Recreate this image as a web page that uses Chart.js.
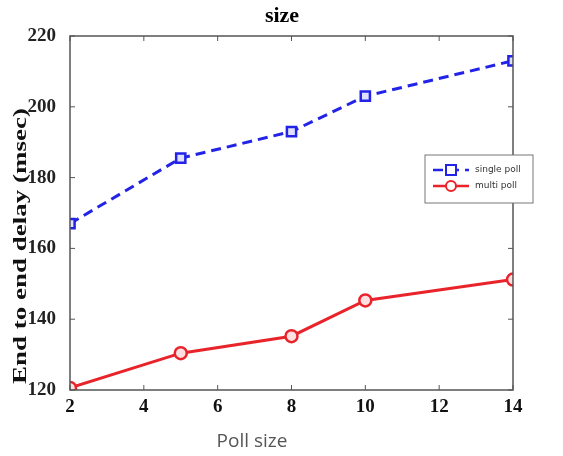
<!DOCTYPE html>
<html>
<head>
<meta charset="utf-8">
<script src="https://cdn.jsdelivr.net/npm/chart.js@4"></script>
<style>
  html, body { margin: 0; padding: 0; background: #fff; }
  #wrap { width: 563px; height: 456px; }
</style>
</head>
<body>
<div id="wrap"><canvas id="lineChart" width="563" height="456"></canvas></div>
<script>
// data
var pollSize = [2, 5, 8, 10, 14];
var singlePoll = [167, 185.5, 193, 203, 213];
var multiPoll = [120.6, 130.4, 135.2, 145.3, 151.2];
var xTicks = [2, 4, 6, 8, 10, 12, 14];
var yTicks = [120, 140, 160, 180, 200, 220];
var titleText = 'size';
var xTitle = 'Poll size';
var yTitle = 'End to end delay (msec)';

function pts(ys) {
  return pollSize.map(function (x, i) { return { x: x, y: ys[i] }; });
}

// frame round the plot area, with small inward ticks, plus the titles
var framePlugin = {
  id: 'frame',
  afterDraw: function (chart) {
    var c = chart.ctx, a = chart.chartArea;
    var xs = chart.scales.x, ys = chart.scales.y;
    c.save();
    c.strokeStyle = '#555';
    c.lineWidth = 1.5;
    c.strokeRect(a.left, a.top, a.right - a.left, a.bottom - a.top);
    c.lineWidth = 1;
    xTicks.forEach(function (t) {
      var px = xs.getPixelForValue(t);
      c.beginPath(); c.moveTo(px, a.bottom); c.lineTo(px, a.bottom - 5); c.stroke();
      c.beginPath(); c.moveTo(px, a.top); c.lineTo(px, a.top + 5); c.stroke();
    });
    yTicks.forEach(function (t) {
      var py = ys.getPixelForValue(t);
      c.beginPath(); c.moveTo(a.left, py); c.lineTo(a.left + 5, py); c.stroke();
      c.beginPath(); c.moveTo(a.right, py); c.lineTo(a.right - 5, py); c.stroke();
    });

    c.textAlign = 'center';
    c.textBaseline = 'middle';
    c.fillStyle = '#000';
    c.font = 'bold 22px "Liberation Serif"';
    c.fillText(titleText, 282, 16);

    c.fillStyle = '#555';
    c.font = '19px "Open Sans"';
    c.fillText(xTitle, 252, 442);

    // y title is drawn stretched along its length, as in the picture
    c.translate(21, 246);
    c.rotate(-Math.PI / 2);
    c.scale(1.5, 1);
    c.fillStyle = '#111';
    c.font = 'bold 18px "Liberation Serif"';
    c.fillText(yTitle, 0, 0);
    c.restore();
  }
};

// small legend box inside the plot
var legendPlugin = {
  id: 'boxLegend',
  afterDraw: function (chart) {
    var c = chart.ctx;
    var bx = 425, by = 155, bw = 108, bh = 48;
    c.save();
    c.fillStyle = '#fff';
    c.fillRect(bx, by, bw, bh);
    c.strokeStyle = '#777';
    c.lineWidth = 1;
    c.strokeRect(bx, by, bw, bh);
    chart.data.datasets.forEach(function (ds, i) {
      var y = by + 15 + i * 16;
      c.strokeStyle = ds.borderColor;
      c.lineWidth = 2.5;
      c.setLineDash(ds.borderDash || []);
      c.beginPath(); c.moveTo(bx + 8, y); c.lineTo(bx + 44, y); c.stroke();
      c.setLineDash([]);
      c.lineWidth = 2;
      c.beginPath();
      if (ds.pointStyle === 'rect') c.rect(bx + 21, y - 5, 10, 10);
      else c.arc(bx + 26, y, 5, 0, Math.PI * 2);
      c.fillStyle = '#fff'; c.fill(); c.stroke();
      c.fillStyle = '#333';
      c.font = '9px "DejaVu Sans"';
      c.textBaseline = 'middle';
      c.fillText(ds.label, bx + 50, y);
    });
    c.restore();
  }
};

var ctx = document.getElementById('lineChart').getContext('2d');
var myChart = new Chart(ctx, {
  type: 'line',
  data: {
    datasets: [{
      label: 'single poll',
      data: pts(singlePoll),
      borderColor: '#2323e8',
      backgroundColor: '#e8e8ff',
      borderWidth: 3,
      borderDash: [10, 6],
      pointStyle: 'rect',
      pointRadius: 6.5,
      pointBorderWidth: 2.5,
      pointBackgroundColor: '#dfe2ff'
    }, {
      label: 'multi poll',
      data: pts(multiPoll),
      borderColor: '#e8232a',
      backgroundColor: '#ffe6e6',
      borderWidth: 3,
      pointStyle: 'circle',
      pointRadius: 6,
      pointBorderWidth: 2.5,
      pointBackgroundColor: '#ffe0e0'
    }]
  },
  options: {
    responsive: false,
    animation: false,
    layout: { padding: { top: 36, right: 50, left: 0, bottom: 0 } },
    plugins: {
      legend: { display: false },
      tooltip: { enabled: false },
      title: { display: false }
    },
    scales: {
      x: {
        type: 'linear',
        min: 2, max: 14,
        afterBuildTicks: function (s) { s.ticks = xTicks.map(function (v) { return { value: v }; }); },
        afterFit: function (s) { s.height = 66; },
        grid: { display: false },
        border: { display: false },
        ticks: {
          color: '#111',
          padding: -2,
          font: { family: '"Liberation Serif"', size: 19, weight: 'bold' }
        }
      },
      y: {
        min: 120, max: 220,
        afterBuildTicks: function (s) { s.ticks = yTicks.map(function (v) { return { value: v }; }); },
        afterFit: function (s) { s.width = 70; },
        grid: { display: false },
        border: { display: false },
        ticks: {
          color: '#222',
          padding: 6,
          font: { family: '"Liberation Serif"', size: 19, weight: 'bold' }
        }
      }
    }
  },
  plugins: [framePlugin, legendPlugin]
});
</script>
</body>
</html>
